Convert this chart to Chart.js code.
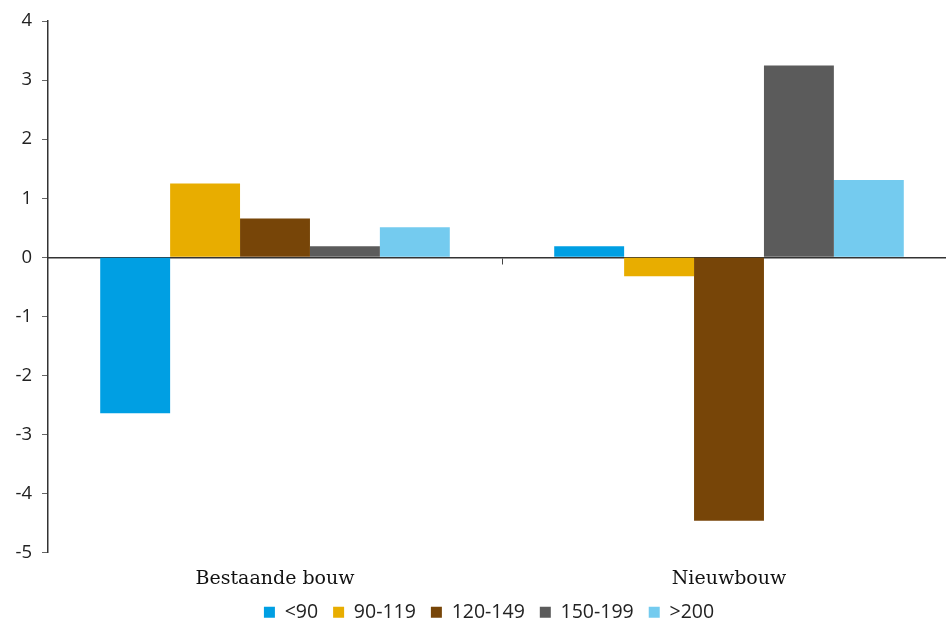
<!DOCTYPE html>
<html>
<head>
<meta charset="utf-8">
<script src="https://cdn.jsdelivr.net/npm/chart.js@4"></script>
<style>
  html, body { margin: 0; padding: 0; overflow: hidden; background: #fff; }
  #wrap { width: 956px; height: 620px; }
</style>
</head>
<body>
<div id="wrap"><canvas id="myChart"></canvas></div>
<script>
var categories = ['Bestaande bouw', 'Nieuwbouw'];
var seriesNames = ['<90', '90-119', '120-149', '150-199', '>200'];
var under90 = [-2.64, 0.19];
var from90 = [1.25, -0.32];
var from120 = [0.66, -4.46];
var from150 = [0.19, 3.25];
var over200 = [0.51, 1.31];
var yTicks = [-5, -4, -3, -2, -1, 0, 1, 2, 3, 4];
var colors = ['#009fe3', '#e8ad00', '#774508', '#5b5b5b', '#74cbef'];

var seriesData = [under90, from90, from120, from150, over200];
var datasets = seriesData.map(function (d, i) {
  return {
    label: seriesNames[i],
    data: d,
    backgroundColor: colors[i],
    borderWidth: 0,
    categoryPercentage: 0.77,
    barPercentage: 1.0
  };
});

// pull the legend up closer to the axis labels, nudge it right a bit
var SHIFT = 10;
var NUDGE = 11;
var legendTighten = {
  id: 'legendTighten',
  beforeLayout: function (chart) {
    var lg = chart.legend;
    if (lg && !lg._patched) {
      var orig = lg.fit;
      lg.fit = function () { orig.call(this); this.height -= SHIFT; };
      lg._patched = true;
    }
  },
  afterLayout: function (chart) {
    chart.legend.top -= SHIFT;
    chart.legend.left += NUDGE;
    chart.legend.right += NUDGE;
  }
};

var ctx = document.getElementById('myChart').getContext('2d');
var barChart = new Chart(ctx, {
  type: 'bar',
  data: { labels: categories, datasets: datasets },
  plugins: [legendTighten],
  options: {
    responsive: true,
    maintainAspectRatio: false,
    animation: false,
    layout: { padding: { top: 11, right: 0, left: 0, bottom: -12 } },
    plugins: {
      tooltip: { enabled: false },
      legend: {
        position: 'bottom',
        labels: {
          boxWidth: 11,
          boxHeight: 11,
          padding: 15,
          color: '#222',
          font: { family: 'Open Sans', size: 19.5 }
        }
      }
    },
    scales: {
      y: {
        min: -5,
        max: 4,
        afterBuildTicks: function (axis) {
          axis.ticks = yTicks.map(function (v) { return { value: v }; });
        },
        afterFit: function (axis) { axis.width = 48; },
        border: { display: true, color: '#333', width: 1.5 },
        grid: {
          drawOnChartArea: false,
          drawTicks: true,
          tickLength: 6,
          color: '#666'
        },
        ticks: {
          padding: 10,
          color: '#222',
          font: { family: 'Open Sans', size: 18.5 }
        }
      },
      x: {
        border: { display: false },
        grid: { display: false },
        ticks: {
          padding: 7,
          color: '#111',
          font: { family: 'DejaVu Serif', size: 19 }
        }
      },
      x2: {
        type: 'category',
        axis: 'x',
        labels: categories,
        offset: true,
        position: { y: 0 },
        border: { display: true, color: '#333', width: 1.5 },
        grid: {
          drawOnChartArea: false,
          drawTicks: true,
          tickLength: 6,
          offset: true,
          color: function (c) { return c.index === 0 ? 'rgba(0,0,0,0)' : '#444'; }
        },
        ticks: { display: false }
      }
    }
  }
});
</script>
</body>
</html>
